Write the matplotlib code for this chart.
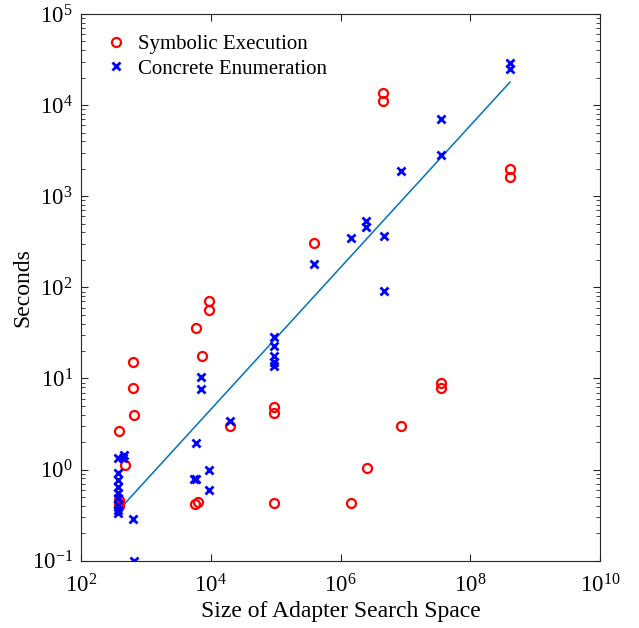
import matplotlib.pyplot as plt
import numpy as np
from matplotlib.ticker import LogLocator, NullLocator

plt.rcParams['font.family'] = ['Liberation Serif', 'DejaVu Serif']
plt.rcParams['mathtext.fontset'] = 'custom'
plt.rcParams['mathtext.rm'] = 'Liberation Serif'

# Symbolic execution: adapter search space size vs. seconds
sym_size = [384, 384, 384, 384, 630, 630, 655, 475,
            5900, 9300, 9300, 7300, 19800, 5700, 6300,
            94000, 94000, 94000, 390000, 4.5e6, 4.5e6, 1.45e6, 2.55e6, 8.5e6,
            3.5e7, 3.5e7, 4.1e8, 4.1e8]
sym_time = [2.65, 0.40, 0.43, 0.46, 15.2, 7.9, 3.97, 1.12,
            35.8, 71, 56.5, 17.7, 3.0, 0.42, 0.44,
            4.86, 4.2, 0.43, 307, 13600, 11100, 0.43, 1.04, 3.0,
            8.93, 7.87, 2000, 1620]

# Concrete enumeration
con_size = [376, 465, 450, 376, 376, 376, 376, 376, 376, 376, 376,
            640, 660, 7150, 7150, 19800, 5900, 5500, 6000, 9300, 9300,
            95000, 95000, 95000, 95000, 95000,
            390000, 1.46e6, 2.5e6, 2.5e6, 4.6e6, 4.6e6, 8.5e6,
            3.5e7, 3.5e7, 4.1e8, 4.1e8]
con_time = [1.33, 1.45, 1.33, 0.92, 0.77, 0.65, 0.55, 0.49, 0.41, 0.36, 0.33,
            0.287, 0.10, 10.5, 7.6, 3.45, 1.97, 0.78, 0.79, 1.0, 0.60,
            28.8, 22.9, 17.7, 15.3, 13.7,
            181, 352, 536, 463, 364, 91, 1910,
            7060, 2840, 29300, 24800]

x_ticks = [1e2, 1e4, 1e6, 1e8, 1e10]
y_ticks = [1e-1, 1e0, 1e1, 1e2, 1e3, 1e4, 1e5]

# log-log fit
b, a = np.polyfit(np.log10(con_size), np.log10(con_time), 1)
fit_x = np.array([min(con_size), max(con_size)])
fit_y = 10 ** (a + b * np.log10(fit_x))

fig = plt.figure(figsize=(6.39, 6.28), dpi=100)
ax = fig.add_axes([0.1268, 0.1072, 0.8122, 0.8705])

ax.plot(sym_size, sym_time, 'o', mfc='none', mec='red', mew=1.6, ms=6.5,
        label='Symbolic Execution', zorder=3)
ax.plot(con_size, con_time, 'x', color='blue', mew=2.0, ms=5.5,
        label='Concrete Enumeration', zorder=3)
ax.plot(fit_x, fit_y, color='#0072BD', lw=1.1, zorder=2)

ax.set_xscale('log')
ax.set_yscale('log')
ax.set_xlim(1e2, 1e10)
ax.set_ylim(1e-1, 1e5)
ax.set_xticks(x_ticks)
ax.set_yticks(y_ticks)
ax.xaxis.set_minor_locator(NullLocator())
ax.yaxis.set_minor_locator(LogLocator(base=10, subs=np.arange(2, 10), numticks=20))

ax.tick_params(which='both', direction='in', top=True, right=True,
               labelsize=16.5, color='#262626')
ax.tick_params(axis='x', pad=10)
ax.tick_params(axis='y', pad=6)
ax.tick_params(which='major', length=5)
ax.tick_params(which='minor', length=3)
for s in ax.spines.values():
    s.set_color('#262626')
    s.set_linewidth(0.8)

ax.set_xlabel('Size of Adapter Search Space', fontsize=17, labelpad=2)
ax.set_ylabel('Seconds', fontsize=17, labelpad=-1)

ax.legend(loc='upper left', frameon=False, fontsize=15, handletextpad=0.35,
          borderaxespad=0.6, labelspacing=0.22, handlelength=1.4)

fig.savefig('out.png', dpi=100)
